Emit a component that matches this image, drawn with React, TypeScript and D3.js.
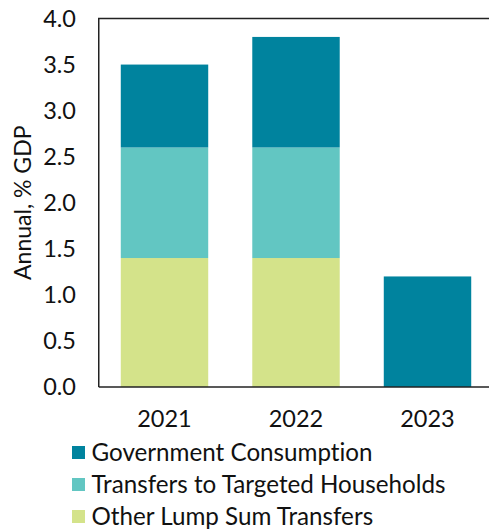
import React from "react";
import * as d3 from "d3";

const categories = ["2021", "2022", "2023"];
const seriesNames = ["Other Lump Sum Transfers", "Transfers to Targeted Households", "Government Consumption"];
const otherLumpSum = [1.4, 1.4, 0];
const targetedHouseholds = [1.2, 1.2, 0];
const govConsumption = [0.9, 1.2, 1.2];
const colors = ["#D4E38A", "#62C6C2", "#00839E"];
const yTicks = [0, 0.5, 1.0, 1.5, 2.0, 2.5, 3.0, 3.5, 4.0];

export default function App() {
  const W = 489, H = 529;
  const left = 98.75, right = 493.25, top = 18.5, bottom = 387;
  const x = d3.scaleBand().domain(categories).range([left, right]).paddingInner(0.335).paddingOuter(0.1675);
  const y = d3.scaleLinear().domain([0, 4]).range([bottom, top]);
  const rows = categories.map((c, i) => ({
    cat: c,
    [seriesNames[0]]: otherLumpSum[i],
    [seriesNames[1]]: targetedHouseholds[i],
    [seriesNames[2]]: govConsumption[i],
  }));
  const stack = d3.stack<any>().keys(seriesNames)(rows);
  const font = "Lato, 'Open Sans', sans-serif";
  const fs = 23.5;
  const textStyle = { fontVariantLigatures: "none" as const };
  const legend = [
    { name: seriesNames[2], color: colors[2] },
    { name: seriesNames[1], color: colors[1] },
    { name: seriesNames[0], color: colors[0] },
  ];
  return (
    <svg width={W} height={H} style={{ position: "absolute", left: 0, top: 0, background: "#fff" }}>
      {stack.map((s, si) =>
        s.map((d, i) =>
          d[1] - d[0] > 0 ? (
            <rect key={si + "-" + i} x={x(categories[i])} width={x.bandwidth()} y={y(d[1])} height={y(d[0]) - y(d[1])} fill={colors[si]} />
          ) : null
        )
      )}
      <path d={`M${left},${bottom}V${top}H${right}`} fill="none" stroke="#222" strokeWidth={1.5} />
      <line x1={left} x2={right} y1={bottom} y2={bottom} stroke="#222" strokeWidth={1.5} />
      {yTicks.map((t) => (
        <text key={t} x={76} y={y(t)} dy="0.36em" textAnchor="end" fontFamily={font} fontSize={fs} fill="#111" style={textStyle}>
          {t.toFixed(1)}
        </text>
      ))}
      <text transform={`translate(31,${(top + bottom) / 2}) rotate(-90)`} textAnchor="middle" fontFamily={font} fontSize={23} fill="#111" style={textStyle}>
        Annual, % GDP
      </text>
      {categories.map((c) => (
        <text key={c} x={(x(c) as number) + x.bandwidth() / 2} y={427} textAnchor="middle" fontFamily={font} fontSize={fs} fill="#111" style={textStyle}>
          {c}
        </text>
      ))}
      {legend.map((l, i) => (
        <g key={l.name} transform={`translate(72,${452.5 + i * 32})`}>
          <rect x={0} y={-6.5} width={13} height={13} fill={l.color} />
          <text x={19.5} y={0} dy="0.36em" fontFamily={font} fontSize={24.2} fill="#111" style={textStyle}>
            {l.name}
          </text>
        </g>
      ))}
    </svg>
  );
}
